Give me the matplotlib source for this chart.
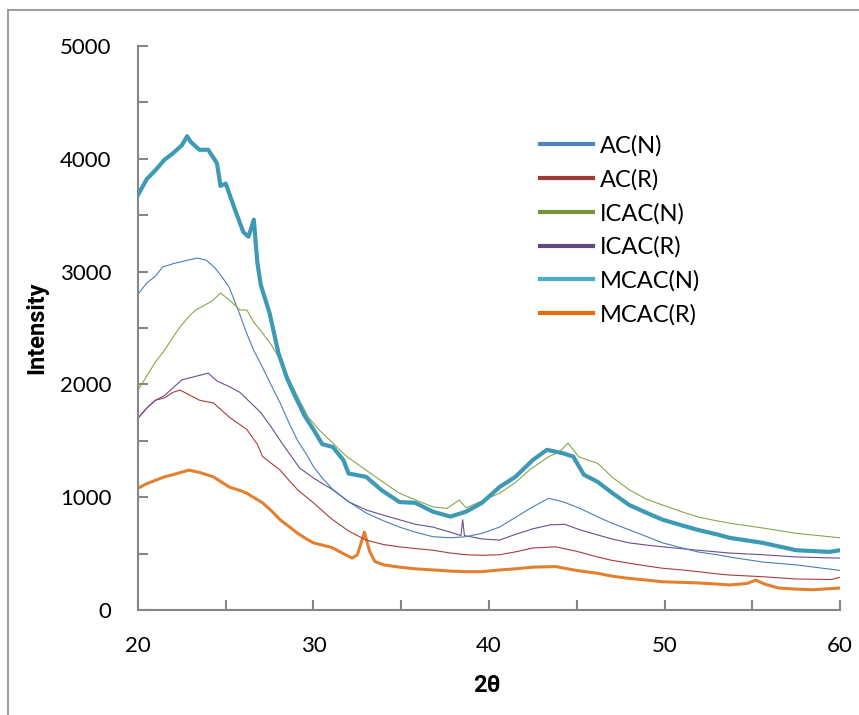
import matplotlib
matplotlib.use('Agg')
import matplotlib.pyplot as plt
from matplotlib.lines import Line2D
from matplotlib.ticker import MultipleLocator

# ---------------- data ----------------
series_names = ['AC(N)', 'AC(R)', 'ICAC(N)', 'ICAC(R)', 'MCAC(N)', 'MCAC(R)']

acn_x = [20, 20.5, 21, 21.4, 22, 22.8, 23.4, 23.9, 24.4, 24.8, 25.2, 25.8, 26.2, 26.6, 27.1, 27.6,
         28.1, 28.6, 29.1, 29.6, 30.0, 30.5, 31.1, 32.0, 33.0, 34.0, 34.9, 35.8, 36.8, 37.8, 38.7,
         39.6, 40.6, 41.5, 42.5, 43.4, 44.2, 45.2, 46.2, 47, 48, 49, 49.9, 51, 51.9, 53, 53.7,
         55.6, 57.5, 59.8, 60]
acn_y = [2800, 2900, 2960, 3040, 3070, 3100, 3120, 3100, 3030, 2950, 2860, 2620, 2450, 2300, 2150, 1990,
         1835, 1660, 1500, 1380, 1270, 1170, 1070, 960, 860, 790, 735, 690, 650, 640, 650,
         680, 735, 820, 915, 990, 960, 900, 825, 770, 710, 650, 595, 550, 515, 490, 470,
         425, 400, 355, 350]

acr_x = [20, 20.5, 21, 21.5, 22, 22.4, 23, 23.5, 24.3, 25.2, 26.2, 26.8, 27.1, 27.6, 28.1, 28.6,
         29.1, 29.6, 30.0, 30.9, 31.1, 32.0, 33.0, 34.0, 34.9, 35.8, 36.8, 37.8, 38.7, 39.6, 40.6,
         41.5, 42.5, 43.8, 45, 46.2, 47, 48, 49, 49.9, 51, 51.9, 53, 53.7, 55.6, 57.5, 59.5, 60]
acr_y = [1700, 1790, 1860, 1880, 1930, 1950, 1900, 1860, 1835, 1710, 1600, 1470, 1360, 1300, 1240, 1150,
         1065, 1000, 950, 825, 800, 700, 620, 580, 560, 545, 530, 505, 490, 485, 490,
         515, 550, 560, 520, 470, 440, 415, 390, 370, 355, 340, 320, 310, 295, 275, 270, 290]

icn_x = [20, 21, 21.5, 22, 22.4, 23, 23.3, 24, 24.3, 24.7, 25.2, 25.8, 26.2, 26.6, 27.1, 27.6, 28.1,
         28.6, 29.1, 29.7, 30.3, 30.9, 31.9, 33.0, 34.0, 34.9, 35.9, 36.8, 37.6, 38.3, 38.7, 39.7,
         40.6, 41.5, 42.3, 43.4, 44.0, 44.5, 44.8, 45.1, 45.6, 46.2, 47, 48, 49, 49.9, 51, 51.9,
         53, 53.7, 55.6, 57.5, 60]
icn_y = [1950, 2200, 2300, 2420, 2510, 2620, 2660, 2720, 2750, 2810, 2750, 2660, 2660, 2550, 2455, 2350, 2220,
         2050, 1890, 1710, 1600, 1510, 1360, 1240, 1130, 1035, 970, 915, 900, 975, 905, 975,
         1035, 1130, 1240, 1360, 1400, 1480, 1420, 1360, 1330, 1300, 1180, 1065, 980, 930, 870, 825,
         790, 770, 727, 680, 640]

icr_x = [20, 20.5, 21, 21.5, 22, 22.5, 23, 23.5, 24, 24.5, 25.2, 25.8, 26.2, 27, 27.6, 28.2, 29.2,
         30.0, 31.1, 32.0, 33.0, 34.0, 34.9, 35.8, 36.8, 37.8, 38.4, 38.5, 38.6, 39.6, 40.6, 41.5,
         42.5, 43.5, 44.3, 45.2, 46.2, 47, 48, 49, 49.9, 51.9, 53.7, 55.6, 57.5, 60]
icr_y = [1700, 1790, 1860, 1900, 1970, 2040, 2060, 2080, 2100, 2030, 1980, 1930, 1870, 1750, 1620, 1480, 1260,
         1170, 1065, 960, 887, 840, 800, 760, 735, 690, 660, 800, 660, 630, 620, 670,
         720, 755, 760, 710, 665, 630, 595, 575, 560, 530, 505, 490, 470, 460]

mcn_x = [20, 20.5, 21, 21.5, 22, 22.5, 22.8, 23, 23.5, 24, 24.5, 24.7, 25, 25.5, 26, 26.3, 26.6,
         26.8, 27, 27.5, 28, 28.5, 29, 29.5, 30, 30.5, 31.1, 31.7, 32.0, 33.0, 33.9, 34.9, 35.8,
         36.8, 37.8, 38.7, 39.6, 40.6, 41.5, 42.5, 43.3, 44.2, 44.8, 45.4, 46.2, 47, 48, 49, 49.9,
         51, 51.9, 53, 53.7, 55.6, 57.5, 59.4, 60]
mcn_y = [3680, 3820, 3900, 3990, 4050, 4120, 4200, 4150, 4080, 4080, 3960, 3760, 3780, 3560, 3350, 3310, 3460,
         3080, 2880, 2630, 2280, 2050, 1880, 1720, 1600, 1470, 1445, 1330, 1210, 1180, 1060, 957, 950,
         872, 828, 872, 950, 1090, 1180, 1330, 1420, 1390, 1360, 1200, 1135, 1040, 930, 860, 800,
         750, 710, 670, 640, 595, 530, 515, 530]

mcr_x = [20, 20.5, 21, 21.5, 22, 22.9, 23.5, 24.3, 25.2, 25.8, 26.2, 27.1, 27.6, 28.1, 28.6, 29.1,
         29.6, 30.0, 30.9, 31.1, 31.7, 32.2, 32.5, 32.9, 33.2, 33.5, 34.0, 34.9, 35.8, 36.8, 37.8,
         38.7, 39.6, 40.6, 41.5, 42.5, 43.8, 45, 46.2, 47, 48, 49, 49.9, 51, 51.9, 53, 53.7, 54.7,
         55.2, 55.7, 56.5, 57.5, 58.5, 60]
mcr_y = [1080, 1120, 1150, 1180, 1200, 1240, 1220, 1180, 1090, 1060, 1035, 950, 880, 800, 740, 680,
         630, 595, 560, 550, 500, 460, 490, 690, 520, 430, 400, 380, 365, 355, 345,
         340, 340, 355, 365, 380, 385, 350, 325, 300, 280, 265, 250, 245, 240, 230, 222, 235,
         265, 230, 195, 185, 180, 195]

x_ticks = [20, 30, 40, 50, 60]
y_ticks = [0, 1000, 2000, 3000, 4000, 5000]

# ---------------- styling ----------------
plt.rcParams['font.family'] = ['Lato', 'DejaVu Sans']
colors = ['#4A7EBB', '#A83D3A', '#86A84A', '#6A4F8E', '#3E9AB4', '#E3802F']
widths = [0.8, 0.8, 0.8, 0.8, 3.0, 2.2]
axis_grey = '#868686'

fig = plt.figure(figsize=(8.59, 7.15), dpi=100)
ax = fig.add_axes([138 / 859, 105 / 715, 702 / 859, 564 / 715])

data = [(acn_x, acn_y), (acr_x, acr_y), (icn_x, icn_y), (icr_x, icr_y), (mcn_x, mcn_y), (mcr_x, mcr_y)]
order = [5, 1, 3, 0, 2, 4]
for i in order:
    xs, ys = data[i]
    ax.plot(xs, ys, color=colors[i], lw=widths[i], zorder=2 + (1 if i == 4 else 0))

ax.set_xlim(20, 60)
ax.set_ylim(0, 5000)
ax.set_xticks(x_ticks)
ax.set_yticks(y_ticks)
ax.xaxis.set_minor_locator(MultipleLocator(5))
ax.yaxis.set_minor_locator(MultipleLocator(500))
for s in ['top', 'right']:
    ax.spines[s].set_visible(False)
for s in ['left', 'bottom']:
    ax.spines[s].set_color(axis_grey)
    ax.spines[s].set_linewidth(1.5)
ax.tick_params(which='both', direction='in', length=7, width=1.5, color=axis_grey)
ax.tick_params(which='major', labelsize=16, pad=19, labelcolor='black')

bold_family = ['Roboto', 'DejaVu Sans']
ax.set_ylabel('Intensity', fontsize=17, fontweight='bold', family=bold_family)
ax.yaxis.set_label_coords(-0.128, 0.5)
ax.set_xlabel('2θ', fontsize=17, fontweight='bold', va='top', family=bold_family)
ax.xaxis.set_label_coords(0.497, -0.113)

handles = [Line2D([0], [0], color=c, lw=3) for c in ['#4F81BD', '#9E3B38', '#77933C', '#5F4A7B', '#4BACC6', '#E46C0A']]
leg = ax.legend(handles, series_names, loc='upper left',
                bbox_to_anchor=((537 - 138) / 702 - 0.003, (610 - 128) / 564 - 0.004),
                frameon=False, prop={'size': 17}, handlelength=2.25, handletextpad=0.3, labelspacing=0.52,
                borderpad=0.2, borderaxespad=0)

# outer chart-area border (top and left visible)
fig.add_artist(Line2D([8 / 859, 1], [1 - 10 / 715, 1 - 10 / 715], transform=fig.transFigure, color='#8c8c8c', lw=1.2))
fig.add_artist(Line2D([8 / 859, 8 / 859], [0, 1 - 10 / 715], transform=fig.transFigure, color='#8c8c8c', lw=1.2))

fig.savefig('out.png', dpi=100)
